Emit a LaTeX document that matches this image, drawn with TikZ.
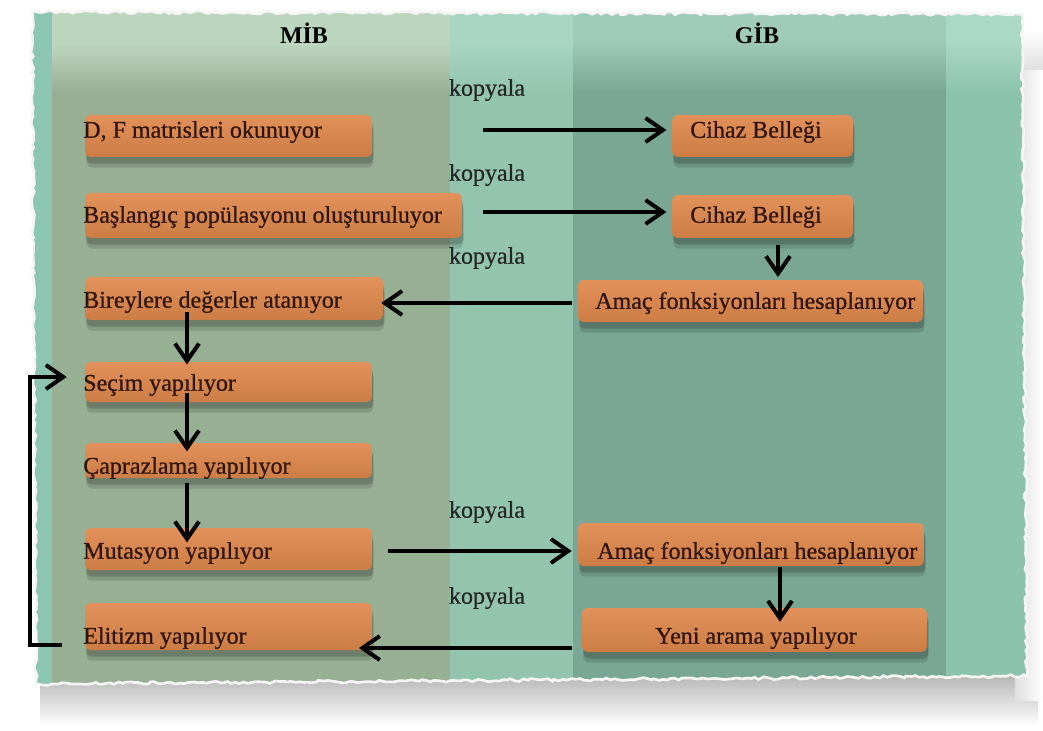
\documentclass[tikz,border=0pt]{standalone}
\usepackage{fontspec}
\setmainfont{Liberation Serif}
\newfontface\heavyserif{Liberation Serif}[FakeBold=0.6]
\usetikzlibrary{arrows.meta,shadows,decorations.pathmorphing,fit,calc}
\definecolor{paperteal}{HTML}{8CC5B1}
\definecolor{mibmain}{HTML}{97AF93}
\definecolor{mibtop}{HTML}{BCD5BD}
\definecolor{midmain}{HTML}{92C4AE}
\definecolor{midtop}{HTML}{A8D6C2}
\definecolor{gibmain}{HTML}{79A794}
\definecolor{gibtop}{HTML}{9FCBB8}
\definecolor{rmain}{HTML}{8CC3AD}
\definecolor{rtop}{HTML}{AAD9C6}
\definecolor{boxtop}{HTML}{E2915A}
\definecolor{boxbot}{HTML}{CC7C45}
\definecolor{txtcol}{HTML}{2E140A}
\begin{document}
\begin{tikzpicture}[x=0.75pt,y=-0.75pt,
  box/.style={rounded corners=4pt, top color=boxtop, bottom color=boxbot, draw=none, inner sep=0pt,
    drop shadow={shadow xshift=1pt, shadow yshift=-8pt, opacity=0.12, fill=black},
    drop shadow={shadow xshift=1pt, shadow yshift=-5pt, opacity=0.18, fill=black}},
  txt/.style={text=txtcol, font=\heavyserif\fontsize{18}{20}\selectfont, inner sep=0pt, anchor=west},
  lbl/.style={text=black!85, font=\heavyserif\fontsize{18}{20}\selectfont, inner sep=0pt},
  hdr/.style={text=black, font=\fontsize{18}{20}\selectfont\bfseries, inner sep=0pt},
  arr/.style={line width=3pt, black, -{Straight Barb[length=13pt,width=18pt]}},
  torn/.style={decorate, decoration={random steps, segment length=3pt, amplitude=1.1pt}}
]
\useasboundingbox (0,0) rectangle (1043,731);
\fill[white] (0,0) rectangle (1043,731);
% paper shadow
\shade[top color=gray!65, bottom color=white] (40,668) rectangle (1038,726);
\shade[left color=gray!25, right color=white] (1015,70) rectangle (1043,700);
\shade[top color=white, bottom color=gray!25] (1015,30) rectangle (1043,70);
% paper
\pgfmathsetseed{7}
\fill[paperteal, torn] (32,12) -- (1022,14) -- (1027,676) -- (36,684) -- cycle;
\begin{scope}
\pgfmathsetseed{7}
\path[torn, clip] (32,12) -- (1022,14) -- (1027,676) -- (36,684) -- cycle;
\fill[mibmain] (52,0) rectangle (450,700);
\fill[mibtop] (52,0) rectangle (450,45);
\shade[top color=mibtop, bottom color=mibmain] (52,45) rectangle (450,92);
\fill[midmain] (450,0) rectangle (573,700);
\fill[midtop] (450,0) rectangle (573,40);
\shade[top color=midtop, bottom color=midmain] (450,40) rectangle (573,92);
\fill[gibmain] (573,0) rectangle (946,700);
\fill[gibtop] (573,0) rectangle (946,40);
\shade[top color=gibtop, bottom color=gibmain] (573,40) rectangle (946,92);
\fill[rmain] (946,0) rectangle (1040,700);
\fill[rtop] (946,0) rectangle (1040,40);
\shade[top color=rtop, bottom color=rmain] (946,40) rectangle (1040,92);
\end{scope}
\pgfmathsetseed{7}
\draw[white!92!gray, line width=2pt, torn] (32,12) -- (1022,14) -- (1027,676) -- (36,684) -- cycle;

% headers
\node[hdr] (hmib) at (304,33) {MİB};
\node[hdr] (hgib) at (757,33) {GİB};

% boxes
\node[box, fit={(85,115) (372,157)}] (b1) {};
\node[box, fit={(85,193) (462,238)}] (b2) {};
\node[box, fit={(85,277) (383,320)}] (b3) {};
\node[box, fit={(85,362) (372,402)}] (b4) {};
\node[box, fit={(85,443) (372,478)}] (b5) {};
\node[box, fit={(85,528) (372,570)}] (b6) {};
\node[box, fit={(85,603) (372,650)}] (b7) {};
\node[box, fit={(672,115) (853,157)}] (b8) {};
\node[box, fit={(672,195) (853,238)}] (b9) {};
\node[box, fit={(578,280) (923,322)}] (b10) {};
\node[box, fit={(578,523) (924,566)}] (b11) {};
\node[box, fit={(582,608) (927,652)}] (b12) {};

% texts
\node[txt] (t1) at (83,132) {D, F matrisleri okunuyor};
\node[txt] (t2) at (83,217) {Başlangıç popülasyonu oluşturuluyor};
\node[txt] (t3) at (83,302) {Bireylere değerler atanıyor};
\node[txt] (t4) at (83,385) {Seçim yapılıyor};
\node[txt] (t5) at (83,468) {Çaprazlama yapılıyor};
\node[txt] (t6) at (83,553) {Mutasyon yapılıyor};
\node[txt] (t7) at (83,638) {Elitizm yapılıyor};
\node[txt] (t8) at (690,132) {Cihaz Belleği};
\node[txt] (t9) at (690,217) {Cihaz Belleği};
\node[txt] (t10) at (595,303) {Amaç fonksiyonları hesaplanıyor};
\node[txt] (t11) at (597,553) {Amaç fonksiyonları hesaplanıyor};
\node[txt] (t12) at (655,638) {Yeni arama yapılıyor};

% labels
\node[lbl] (k1) at (487,90) {kopyala};
\node[lbl] (k2) at (487,175) {kopyala};
\node[lbl] (k3) at (487,258) {kopyala};
\node[lbl] (k4) at (487,512) {kopyala};
\node[lbl] (k5) at (487,598) {kopyala};

% connector start points
\coordinate (s1) at (483,130);
\coordinate (s2) at (483,212);
\coordinate (s3) at (778,245);
\coordinate (s4) at (572,303);
\coordinate (s5) at (187,312);
\coordinate (s6) at (187,393);
\coordinate (s7) at (187,483);
\coordinate (s8) at (388,551);
\coordinate (s9) at (780,567);
\coordinate (s10) at (572,648);
\coordinate (s11) at (62,645);
\coordinate (l1) at (30,645);
\coordinate (l2) at (30,377);

% connectors
\draw[arr, shorten >=4pt] (s1) -- (s1 -| b8.west);
\draw[arr, shorten >=4pt] (s2) -- (s2 -| b9.west);
\draw[arr, shorten >=2pt] (s3) -- (s3 |- b10.north);
\draw[arr, shorten >=-1.5pt] (s4) -- (s4 -| b3.east);
\draw[arr, shorten >=-2pt] (s5) -- (s5 |- b4.north);
\draw[arr, shorten >=-6.5pt] (s6) -- (s6 |- b5.north);
\draw[arr, shorten >=-11pt] (s7) -- (s7 |- b6.north);
\draw[arr, shorten >=4.5pt] (s8) -- (s8 -| b11.west);
\draw[arr, shorten >=-10.5pt] (s9) -- (s9 |- b12.north);
\draw[arr, shorten >=-10pt] (s10) -- (s10 -| b7.east);
\draw[arr, shorten >=13.5pt] (s11) -- (l1) -- (l2) -- (l2 -| b4.west);
\end{tikzpicture}
\end{document}
